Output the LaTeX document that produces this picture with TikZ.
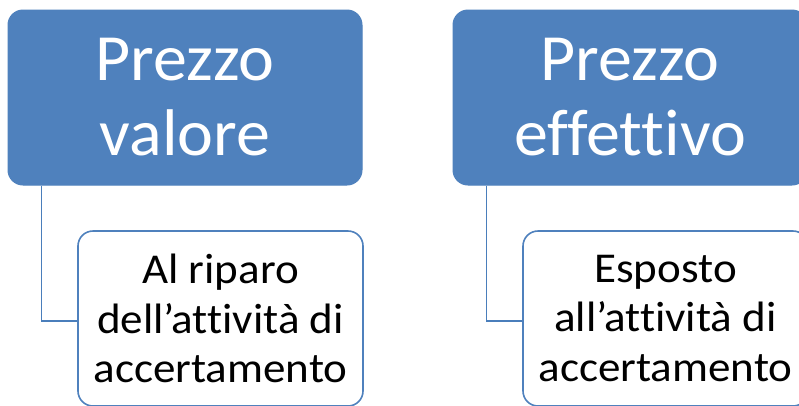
\documentclass[tikz,border=0pt]{standalone}
\usepackage{fontspec}
\setmainfont{Carlito}[Ligatures=NoCommon]
\newfontfamily\topfont{Carlito}[Ligatures=NoCommon,FakeStretch=1.03]
\newfontfamily\childfont{Carlito}[Ligatures=NoCommon,FakeStretch=1.06]
\definecolor{accblue}{HTML}{4F81BD}
\definecolor{lineblue}{HTML}{4A7EBB}
\tikzset{
  topbox/.style={draw=accblue, line width=1pt, fill=accblue, rounded corners=15pt,
    text=white, align=center, minimum width=354pt, minimum height=175pt,
    font=\topfont\fontsize{66}{75}\selectfont, inner sep=0pt},
  childbox/.style={draw=accblue, line width=1.6pt, fill=white, rounded corners=15pt,
    text=black, align=center, minimum width=285pt, minimum height=175pt,
    font=\childfont\fontsize{42.5}{49.5}\selectfont, inner sep=0pt},
  conn/.style={draw=lineblue, line width=1.8pt}
}
\begin{document}
\begin{tikzpicture}[x=1pt,y=-1pt]
\useasboundingbox (0,0) rectangle (799,405);
\clip (0,0) rectangle (799,405);
\fill[white] (0,0) rectangle (799,405);
\node[topbox] (pv) at (185,97.5) {Prezzo\\valore};
\node[topbox] (pe) at (630,97.5) {Prezzo\\effettivo};
\node[childbox] (ar) at (220.5,318.5) {Al riparo\\dell’attività di\\accertamento};
\node[childbox] (es) at (665.5,318.5) {Esposto\\all’attività di\\accertamento};
\coordinate (pvdrop) at ([xshift=34pt]pv.south west);
\coordinate (pedrop) at ([xshift=34pt]pe.south west);
\draw[conn] (pvdrop) |- ([yshift=-2.5pt]ar.west);
\draw[conn] (pedrop) |- ([yshift=-2.5pt]es.west);
\end{tikzpicture}
\end{document}
